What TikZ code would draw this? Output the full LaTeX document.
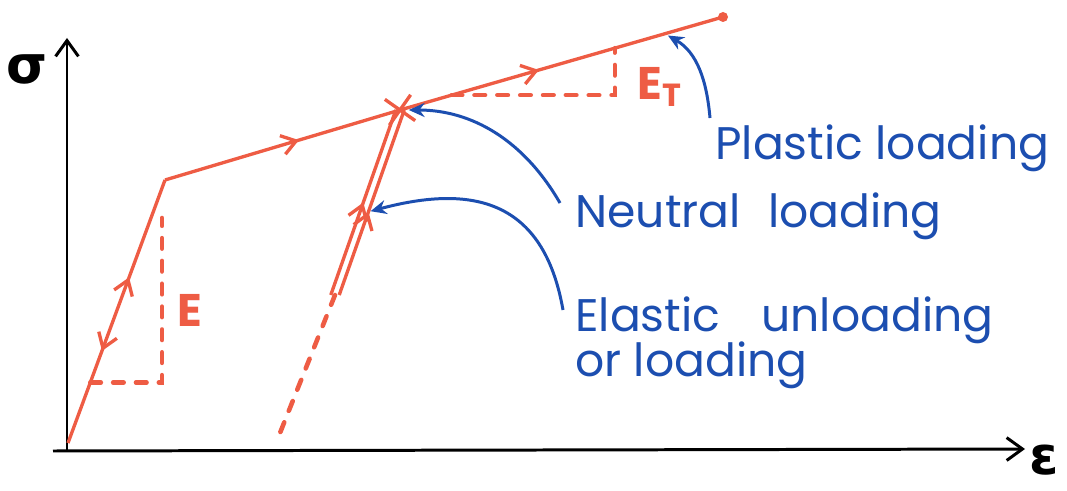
\documentclass[tikz,border=0pt]{standalone}
\usepackage{fontspec}
\setmainfont{Poppins}
\newfontfamily\greekfont{DejaVu Sans}
\usetikzlibrary{arrows.meta, decorations.markings, shapes.misc}

\definecolor{sketchred}{RGB}{238,92,68}
\definecolor{sketchblue}{RGB}{28,78,176}

\begin{document}
\begin{tikzpicture}[
    x=0.02cm, y=0.02cm,
    axis/.style={line width=1.7pt, -{Straight Barb[length=9pt, width=13pt]}},
    redline/.style={sketchred, line width=1.9pt},
    dashline/.style={sketchred, line width=2.6pt, line cap=round, dash pattern=on 6pt off 7pt},
    midarrow/.style={postaction={decorate, decoration={markings,
        mark=at position #1 with {\arrow{Straight Barb[length=8pt, width=11pt]}}}}},
    backarrow/.style={postaction={decorate, decoration={markings,
        mark=at position #1 with {\arrowreversed{Straight Barb[length=8pt, width=11pt]}}}}},
    pointer/.style={sketchblue, line width=1.7pt, -{Stealth[length=9pt, width=8pt]}},
    note/.style={text=sketchblue, font=\fontsize{26}{27}\selectfont, anchor=base west, inner sep=0pt},
    modulus/.style={text=sketchred, font=\fontsize{26}{28}\selectfont\bfseries, inner sep=0pt},
    axlabel/.style={font=\greekfont\fontsize{30}{32}\selectfont\bfseries, inner sep=0pt}
]

\useasboundingbox (0,0) rectangle (1067,490);

% axes
\coordinate (O)    at (67,39);
\coordinate (ymax) at (67,452);
\coordinate (xmin) at (53,39);
\coordinate (xmax) at (1025,41);
\draw[axis] (O) -- (ymax);
\draw[axis] (xmin) -- (xmax);
\node[axlabel] (sigma) at (27,421) {σ};
\node[axlabel] (eps)   at (1044,30) {ε};

% stress-strain path
\coordinate (A) at (68,47);
\coordinate (Y) at (165,310);
\node[cross out, draw=sketchred, line width=1.9pt, minimum size=13pt,
      inner sep=0pt, rotate=10] (N) at (400,380) {};
\coordinate (P) at (723,473);
\coordinate (U) at (335,195);
\coordinate (Z) at (278,52);

% elastic branch
\draw[redline, midarrow=0.63, backarrow=0.35] (A) -- (Y);

% plastic branch
\draw[redline, midarrow=0.57] (Y) -- (N.center);
\draw[redline, midarrow=0.43] (N.center) -- (P);
\fill[sketchred] (P) circle (5);

% unloading / reloading
\draw[redline, backarrow=0.5, transform canvas={xshift=-2.4pt}] (N.center) -- (U);
\draw[redline, midarrow=0.45, transform canvas={xshift=2.4pt}] (U) -- (N.center);
\draw[dashline] (U) -- (Z);

% slope E
\path (A) -- (Y) coordinate[pos=0.23] (e1);
\coordinate (etop) at (162,272);
\draw[dashline] (e1) -- (etop |- e1) -- (etop);
\node[modulus] (Elab) at (190,180) {E};

% slope E_T
\path (N.center) -- (P) coordinate[pos=0.16] (t1) coordinate[pos=0.665] (t2);
\draw[dashline] (t1) -- (t2 |- t1) -- (t2);
\node[modulus] (ETlab) at (660,403) {E\textsubscript{T}};

% labels
\node[note] (plastic) at (715,330) {Plastic loading};
\node[note] (neutral) at (575,262) {Neutral\hspace{0.6em}loading};
\node[note] (elastic) at (575,158) {Elastic\hspace{0.9em}unloading};
\node[note] (orload)  at (575,113) {or loading};

% pointers
\coordinate (plstart)  at (710,372);
\coordinate (neustart) at (560,287);
\coordinate (elstart)  at (563,180);
\path (N.center) -- (P) coordinate[pos=0.82] (pltip);
\path (N.center) -- (U) coordinate[pos=0.557] (eltip);
\draw[pointer, shorten >=2pt] (plstart) to[out=95, in=-30] (pltip);
\draw[pointer, shorten >=5pt] (neustart) to[out=120, in=0] (N.center);
\draw[pointer, shorten >=4pt] (elstart) to[out=100, in=15, looseness=1.3] (eltip);

\end{tikzpicture}
\end{document}
